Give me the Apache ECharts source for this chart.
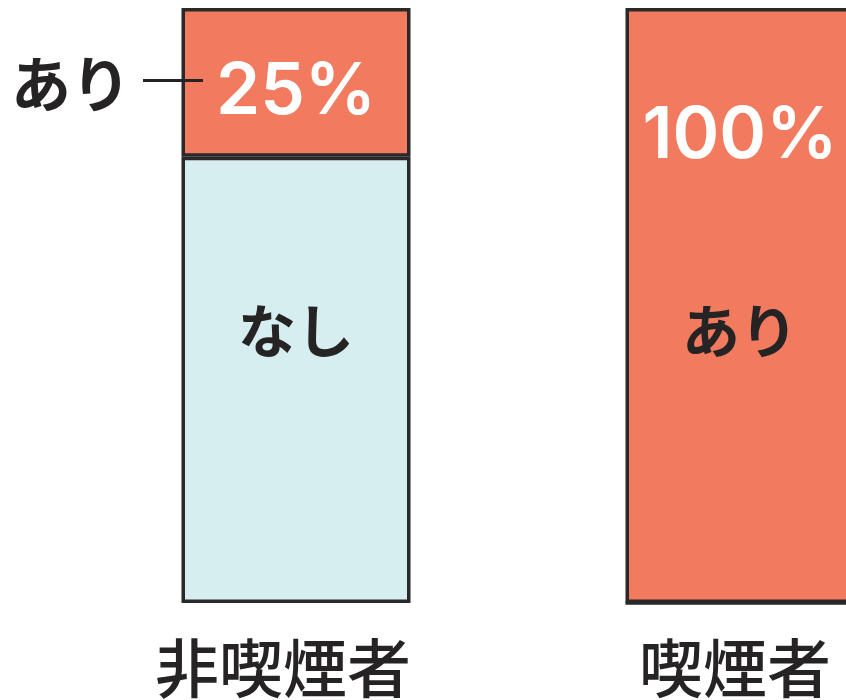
<!DOCTYPE html>
<html>
<head>
<meta charset="utf-8">
<script src="https://cdn.jsdelivr.net/npm/echarts@6/dist/echarts.min.js"></script>
<style>
  html, body { margin: 0; padding: 0; background: #ffffff; }
  #chart { width: 846px; height: 700px; }
</style>
</head>
<body>
<div id="chart"></div>
<script>
// Share (%) of people with / without the condition, by smoking status
const categories = ['非喫煙者', '喫煙者'];
const ariValues = [25, 100];   // あり
const nashiValues = [75, 0];   // なし
const ariName = 'あり';
const nashiName = 'なし';

const FONT = '"Noto Sans CJK JP", "Noto Sans", sans-serif';
const NUM_FONT = 'Inter, "Noto Sans", sans-serif';
const ORANGE = '#F27B5F';
const LIGHT = '#D7EEF0';
const INK = '#262324';
const BORDER = '#2a2828';

const pct = i => Math.round(ariValues[i] / (ariValues[i] + nashiValues[i]) * 100) + '%';

const chart = echarts.init(document.getElementById('chart'), null, { renderer: 'canvas' });

const barBase = {
  type: 'bar',
  stack: 'total',
  barWidth: 229,
  itemStyle: { borderColor: BORDER, borderWidth: 3.5 }
};

const nameStyle = { fontFamily: FONT, fontSize: 58, fontWeight: 700, color: INK };
const pctStyle = { fontFamily: NUM_FONT, fontSize: 71, fontWeight: 600, color: '#ffffff' };

// bottom segment: なし
const nashiData = nashiValues.map(v => ({
  value: v,
  label: Object.assign({
    show: v > 0,
    position: ['50%', '39%'],
    align: 'center',
    verticalAlign: 'middle',
    formatter: nashiName
  }, nameStyle)
}));

// top segment: あり (percentage, plus the name when the bar is entirely あり)
const ariData = ariValues.map((v, i) => {
  const full = nashiValues[i] === 0;
  return {
    value: v,
    label: full ? {
      show: true,
      position: ['50%', 30],
      align: 'center',
      verticalAlign: 'top',
      formatter: '{p|' + pct(i) + '}\n{n|' + ariName + '}',
      rich: {
        p: Object.assign({ lineHeight: 198 }, pctStyle),
        n: Object.assign({ lineHeight: 190 }, nameStyle)
      }
    } : Object.assign({
      show: true,
      position: ['50%', '50%'],
      align: 'center',
      verticalAlign: 'middle',
      offset: [0, 10],
      formatter: pct(i)
    }, pctStyle)
  };
});

// callout for the small あり segment of the first bar
const calloutIndex = 0;

// category labels sit slightly left of the bar centres
const catLabelStyle = { fontFamily: FONT, fontSize: 64, fontWeight: 500, color: INK };

chart.setOption({
  animation: false,
  backgroundColor: '#ffffff',
  grid: { left: 74, top: 8, width: 888, bottom: 97, containLabel: false, outerBoundsMode: 'none' },
  xAxis: {
    type: 'category',
    data: categories,
    axisLine: { show: false },
    axisTick: { show: false },
    axisLabel: {
      margin: 33,
      formatter: (v, i) => '{c' + i + '|' + v + '}',
      rich: {
        c0: Object.assign({ padding: [0, 26, 0, 0] }, catLabelStyle),
        c1: Object.assign({ padding: [0, 10, 0, 0] }, catLabelStyle)
      }
    }
  },
  yAxis: {
    type: 'value',
    min: 0,
    max: 100,
    show: false,
    splitLine: { show: false }
  },
  series: [
    Object.assign({}, barBase, {
      name: nashiName,
      data: nashiData,
      itemStyle: Object.assign({}, barBase.itemStyle, { color: LIGHT })
    }),
    Object.assign({}, barBase, {
      name: ariName,
      data: ariData,
      itemStyle: Object.assign({}, barBase.itemStyle, { color: ORANGE }),
      markPoint: {
        silent: true,
        symbol: 'rect',
        symbolSize: [60, 3],
        symbolOffset: [-123, -2],
        itemStyle: { color: INK },
        label: Object.assign({
          show: true,
          position: 'left',
          distance: 12,
          offset: [0, 4],
          formatter: ariName
        }, nameStyle, { fontSize: 60 }),
        data: [{
          coord: [categories[calloutIndex], nashiValues[calloutIndex] + ariValues[calloutIndex] / 2]
        }]
      }
    })
  ]
});
</script>
</body>
</html>
